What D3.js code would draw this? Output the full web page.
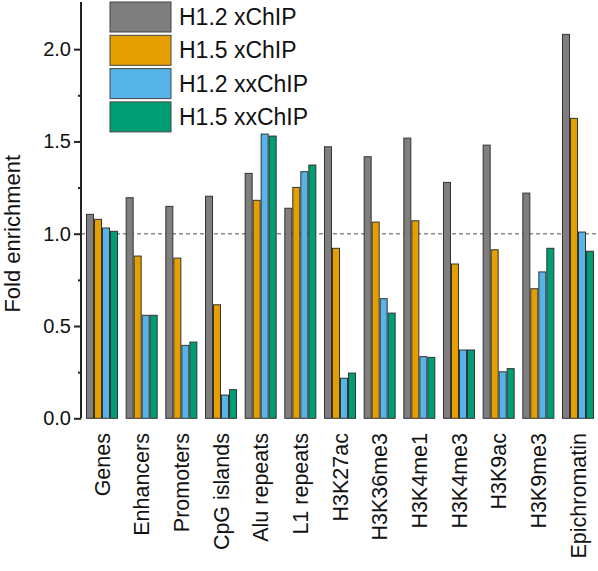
<!DOCTYPE html>
<html>
<head>
<meta charset="utf-8">
<script src="https://cdn.jsdelivr.net/npm/d3@7"></script>
<style>
  html, body { margin: 0; padding: 0; background: #fff; }
  svg { display: block; font-family: "Liberation Sans", Arial, sans-serif; }
</style>
</head>
<body>
<svg id="chart" width="598" height="571"></svg>
<script>
const categories = ["Genes", "Enhancers", "Promoters", "CpG islands", "Alu repeats", "L1 repeats",
  "H3K27ac", "H3K36me3", "H3K4me1", "H3K4me3", "H3K9ac", "H3K9me3", "Epichromatin"];
const seriesNames = ["H1.2 xChIP", "H1.5 xChIP", "H1.2 xxChIP", "H1.5 xxChIP"];
const h12x  = [1.105, 1.195, 1.148, 1.203, 1.327, 1.138, 1.471, 1.417, 1.518, 1.278, 1.480, 1.220, 2.080];
const h15x  = [1.078, 0.879, 0.868, 0.615, 1.181, 1.251, 0.921, 1.063, 1.070, 0.836, 0.913, 0.702, 1.625];
const h12xx = [1.031, 0.558, 0.395, 0.126, 1.540, 1.336, 0.217, 0.648, 0.334, 0.370, 0.252, 0.793, 1.009];
const h15xx = [1.013, 0.558, 0.413, 0.155, 1.529, 1.372, 0.245, 0.570, 0.330, 0.370, 0.269, 0.921, 0.905];
const colors = ["#7f7f7f", "#E69F00", "#56B4E9", "#009E73"];
const yTicks = [0, 0.5, 1.0, 1.5, 2.0];
const yMinorTicks = [0.25, 0.75, 1.25, 1.75];
const refValue = 1.0;

const series = [h12x, h15x, h12xx, h15xx];
const svg = d3.select("#chart");

const y = d3.scaleLinear().domain([0, 2.25]).range([418.3, 3]);
const x0 = d3.scaleBand().domain(categories).range([81, 599]).paddingInner(0.193).paddingOuter(0.126);
const x1 = d3.scaleBand().domain(d3.range(series.length)).range([0, x0.bandwidth()]).padding(0);

// reference dashed line
svg.append("line")
  .attr("x1", 81).attr("x2", 598)
  .attr("y1", y(refValue)).attr("y2", y(refValue))
  .attr("stroke", "#8a8a8a").attr("stroke-width", 1.5)
  .attr("stroke-dasharray", "4,3");

// bars
const groups = svg.append("g").selectAll("g")
  .data(categories)
  .join("g")
  .attr("transform", d => `translate(${x0(d)},0)`);

groups.selectAll("rect")
  .data((d, i) => series.map((s, k) => ({k, v: s[i]})))
  .join("rect")
  .attr("x", d => x1(d.k) + 0.5)
  .attr("width", x1.bandwidth() - 1)
  .attr("y", d => y(d.v))
  .attr("height", d => y(0) - y(d.v))
  .attr("fill", d => colors[d.k])
  .attr("stroke", "#333")
  .attr("stroke-width", 1);

// y axis
const yAxis = d3.axisLeft(y).tickValues(yTicks).tickFormat(d3.format(".1f")).tickSize(7).tickPadding(3);
const gy = svg.append("g").attr("transform", "translate(81,0)").call(yAxis);
gy.select(".domain").attr("stroke", "#222").attr("stroke-width", 2).attr("d", `M0,${y(0)}V${y(2.25)-1}`);
gy.selectAll(".tick line").attr("stroke", "#222").attr("stroke-width", 2);
gy.selectAll(".tick text").attr("font-size", 20).attr("fill", "#111").attr("font-family", "Liberation Sans, Arial, sans-serif");

const gyMinor = svg.append("g").attr("transform", "translate(81,0)")
  .call(d3.axisLeft(y).tickValues(yMinorTicks).tickSize(3).tickFormat(""));
gyMinor.select(".domain").remove();
gyMinor.selectAll(".tick line").attr("stroke", "#222").attr("stroke-width", 2);

// y title
svg.append("text")
  .attr("transform", `translate(12,${y(1.0)}) rotate(-90)`)
  .attr("text-anchor", "middle")
  .attr("dominant-baseline", "central")
  .attr("font-size", 22)
  .attr("fill", "#111")
  .text("Fold enrichment");

// x labels
svg.append("g").selectAll("text")
  .data(categories)
  .join("text")
  .attr("transform", d => `translate(${x0(d) + x0.bandwidth() / 2},433) rotate(-90)`)
  .attr("text-anchor", "end")
  .attr("dy", "0.35em")
  .attr("font-size", 21.5)
  .attr("fill", "#111")
  .text(d => d);

// legend
const legend = svg.append("g").attr("transform", "translate(110,2)");
const li = legend.selectAll("g").data(seriesNames).join("g")
  .attr("transform", (d, i) => `translate(0,${i * 33.3})`);
li.append("rect")
  .attr("width", 61).attr("height", 30)
  .attr("fill", (d, i) => colors[i])
  .attr("stroke", "#444").attr("stroke-width", 1);
li.append("text")
  .attr("x", 69).attr("y", 15)
  .attr("dy", "0.35em")
  .attr("font-size", 23)
  .attr("fill", "#111")
  .text(d => d);
</script>
</body>
</html>
